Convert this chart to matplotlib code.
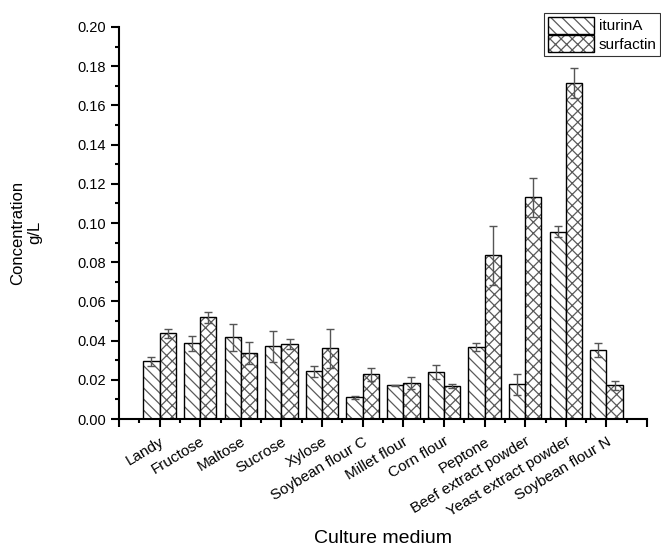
import matplotlib
matplotlib.use("Agg")
import matplotlib.pyplot as plt
import numpy as np
from matplotlib.ticker import MultipleLocator
from matplotlib.colors import to_rgba

plt.rcParams['font.family'] = ['Liberation Sans', 'DejaVu Sans']
plt.rcParams['hatch.linewidth'] = 0.9

categories = ["Landy", "Fructose", "Maltose", "Sucrose", "Xylose", "Soybean flour C",
              "Millet flour", "Corn flour", "Peptone", "Beef extract powder",
              "Yeast extract powder", "Soybean flour N"]
iturinA = [0.0294, 0.0386, 0.0417, 0.0371, 0.0245, 0.0111, 0.0172, 0.0240, 0.0367, 0.0177, 0.0956, 0.0352]
iturinA_err = [0.0024, 0.0039, 0.0068, 0.0078, 0.0028, 0.0008, 0.0002, 0.0034, 0.0021, 0.0053, 0.0029, 0.0037]
surfactin = [0.0437, 0.0519, 0.0338, 0.0384, 0.0361, 0.0228, 0.0182, 0.0167, 0.0835, 0.1131, 0.1716, 0.0172]
surfactin_err = [0.0023, 0.0029, 0.0056, 0.0026, 0.0098, 0.0032, 0.0031, 0.0010, 0.0151, 0.0101, 0.0077, 0.0024]

fig = plt.figure(figsize=(6.61, 5.5), dpi=100)
ax = fig.add_axes([0.180, 0.238, 0.799, 0.713])

x = np.arange(1, len(categories) + 1)
w = 0.4
ekw = dict(ecolor='#555555', elinewidth=1.0, capsize=3, capthick=1.0)
b1 = ax.bar(x - w/2, iturinA, w, yerr=iturinA_err, color='white', edgecolor='black',
            hatch='\\\\\\', linewidth=1.0, label='iturinA', error_kw=ekw)
b2 = ax.bar(x + w/2, surfactin, w, yerr=surfactin_err, color='white', edgecolor='black',
            hatch='xxx', linewidth=1.0, label='surfactin', error_kw=ekw)
hc = to_rgba('#5a5a5a')
for b in list(b1) + list(b2):
    b._hatch_color = hc

ax.set_xlim(0, 13)
ax.set_ylim(0, 0.20)
ax.set_xticks(np.arange(0, 14))
ax.set_xticklabels([""] + categories + [""], rotation=31, ha='right', rotation_mode='anchor', fontsize=11)
ax.xaxis.set_minor_locator(MultipleLocator(0.5))
ax.yaxis.set_minor_locator(MultipleLocator(0.01))
yt = np.arange(0, 0.2001, 0.02)
ax.set_yticks(yt)
ax.set_yticklabels([f"{v:.2f}" for v in yt], fontsize=10.5)
ax.tick_params(axis='both', which='major', direction='out', length=6, width=1.5)
ax.tick_params(axis='both', which='minor', direction='out', length=3, width=1.5)
ax.tick_params(axis='x', which='major', pad=5)
for s in ['top', 'right']:
    ax.spines[s].set_visible(False)
for s in ['left', 'bottom']:
    ax.spines[s].set_linewidth(1.5)

ax.set_ylabel("Concentration\ng/L", fontsize=12, linespacing=1.2)
ax.yaxis.set_label_coords(-0.145, 0.475)
ax.set_xlabel("Culture medium", fontsize=14, labelpad=8)

leg = fig.legend(handles=[b1, b2], labels=['iturinA', 'surfactin'], loc='upper right',
                 bbox_to_anchor=(0.999, 0.976), frameon=True, fancybox=False,
                 edgecolor='black', fontsize=11, handlelength=3.0, handleheight=1.3,
                 handletextpad=0.3, borderpad=0.25, labelspacing=0.1, borderaxespad=0)
leg.get_frame().set_linewidth(0.8)
for p in leg.get_patches():
    p._hatch_color = hc

fig.savefig("out.png", dpi=100)
